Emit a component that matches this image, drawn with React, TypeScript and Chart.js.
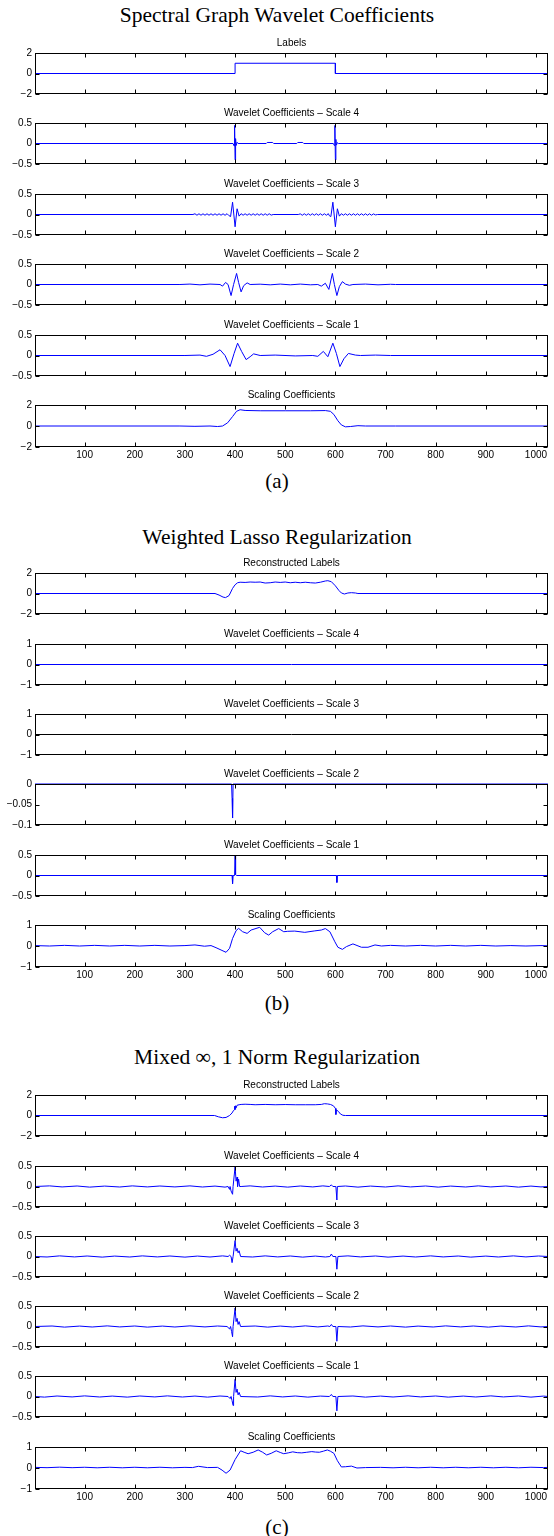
import React, { useEffect, useRef } from "react";
import { Chart, registerables } from "chart.js";

Chart.register(...registerables);

// ---------- tick labels ----------
const X_TICKS = [100, 200, 300, 400, 500, 600, 700, 800, 900, 1000];
const Y_TICKS_2 = [-2, 0, 2];
const Y_TICKS_1 = [-1, 0, 1];
const Y_TICKS_05 = [-0.5, 0, 0.5];
const Y_TICKS_01 = [-0.1, -0.05, 0];

// ---------- titles ----------
const GROUP_TITLES = [
  "Spectral Graph Wavelet Coefficients",
  "Weighted Lasso Regularization",
  "Mixed \u221E, 1 Norm Regularization",
];
const GROUP_LABELS = ["(a)", "(b)", "(c)"];
const PANEL_TITLES_A = [
  "Labels",
  "Wavelet Coefficients \u2013 Scale 4",
  "Wavelet Coefficients \u2013 Scale 3",
  "Wavelet Coefficients \u2013 Scale 2",
  "Wavelet Coefficients \u2013 Scale 1",
  "Scaling Coefficients",
];
const PANEL_TITLES_BC = [
  "Reconstructed Labels",
  "Wavelet Coefficients \u2013 Scale 4",
  "Wavelet Coefficients \u2013 Scale 3",
  "Wavelet Coefficients \u2013 Scale 2",
  "Wavelet Coefficients \u2013 Scale 1",
  "Scaling Coefficients",
];

// ---------- series (x = vertex index, y = value) ----------
// (a) Spectral graph wavelet coefficients
const A_LABELS: [number, number][] = [[1, 0], [400, 0], [400, 1], [600, 1], [600, 0], [1024, 0]];

const A_SCALE4: [number, number][] = [
  [1, 0], [396, 0], [398, -0.06], [399, 0.44], [400, -0.4], [401, 0.12], [402, -0.05], [404, 0.03], [406, 0],
  [462, 0], [464, 0.025], [475, 0.025], [477, 0], [523, 0], [525, 0.025], [535, 0.025], [537, 0],
  [596, 0], [598, -0.05], [599, 0.44], [600, -0.4], [601, 0.1], [602, -0.04], [604, 0.02], [606, 0], [1024, 0],
];

const A_SCALE3: [number, number][] = [
  [1, 0], [316, 0],
  [320, 0.018], [324, -0.018], [328, 0.018], [332, -0.018], [336, 0.018], [340, -0.018], [344, 0.018], [348, -0.018],
  [352, 0.018], [356, -0.018], [360, 0.018], [364, -0.018], [368, 0.018], [372, -0.018], [376, 0.018], [380, -0.02],
  [384, 0.02], [388, -0.03], [391, -0.05], [395, 0.3], [400, -0.3], [404, 0.14], [408, -0.04], [412, 0.02],
  [416, -0.018], [420, 0.018], [424, -0.018], [428, 0.018], [432, -0.018], [436, 0.018], [440, -0.018], [444, 0.018],
  [448, -0.018], [452, 0.018], [456, -0.018], [460, 0.018], [464, -0.018], [468, 0.018], [472, -0.015], [476, 0],
  [526, 0], [530, 0.015], [534, -0.018], [538, 0.018], [542, -0.018], [546, 0.018], [550, -0.018], [554, 0.018],
  [558, -0.018], [562, 0.018], [566, -0.018], [570, 0.018], [574, -0.018], [578, 0.018], [582, -0.018], [586, 0.02],
  [588, -0.03], [591, -0.05], [595, 0.3], [600, -0.3], [604, 0.14], [608, -0.04], [612, 0.02],
  [616, -0.018], [620, 0.018], [624, -0.018], [628, 0.018], [632, -0.018], [636, 0.018], [640, -0.018], [644, 0.018],
  [648, -0.018], [652, 0.018], [656, -0.018], [660, 0.018], [664, -0.018], [668, 0.018], [672, -0.018], [676, 0.015],
  [680, -0.01], [684, 0], [1024, 0],
];

const A_SCALE2: [number, number][] = [
  [1, 0], [290, 0], [310, 0.01], [330, -0.008], [350, 0.01], [370, 0], [375, -0.04], [381, 0.05], [386, 0.0],
  [392, -0.27], [397, 0.0], [403, 0.27], [407, 0.05], [412, -0.18], [417, -0.03], [424, 0.04], [430, 0],
  [450, 0.008], [470, -0.008], [490, 0.01], [510, -0.008], [530, 0.01], [550, -0.008], [565, 0],
  [572, -0.04], [580, 0.03], [587, -0.12], [594, 0.27], [598, 0.0], [603, -0.27], [608, -0.05], [614, 0.07],
  [620, 0.01], [628, -0.02], [635, 0], [660, 0.01], [685, -0.008], [710, 0.005], [720, 0], [1024, 0],
];

const A_SCALE1: [number, number][] = [
  [1, 0], [300, 0], [330, 0.01], [343, -0.02], [356, 0.03], [370, 0.14], [380, 0.0], [390, -0.27], [398, 0.05],
  [405, 0.3], [413, 0.1], [422, -0.1], [430, -0.03], [437, 0.04], [450, 0], [480, 0.01], [520, -0.01],
  [555, 0], [565, -0.02], [576, 0.1], [585, -0.03], [595, 0.3], [602, 0.05], [609, -0.27], [617, -0.08],
  [626, 0.05], [640, 0.01], [650, 0], [680, 0.01], [710, 0], [1024, 0],
];

const A_SCALING: [number, number][] = [
  [1, 0], [290, 0], [320, -0.03], [350, 0.0], [365, -0.05], [375, 0.0], [385, 0.3], [395, 0.9], [403, 1.4],
  [410, 1.55], [420, 1.48], [450, 1.45], [500, 1.45], [550, 1.45], [580, 1.47], [590, 1.4], [597, 1.1],
  [605, 0.5], [612, 0.1], [620, -0.08], [630, -0.05], [645, 0.03], [660, 0], [720, 0], [1024, 0],
];

// (b) Weighted lasso regularization
const B_RECON: [number, number][] = [
  [1, 0], [360, 0], [368, -0.15], [376, -0.35], [381, -0.4], [388, -0.2], [395, 0.5], [400, 0.85], [405, 1.05],
  [410, 1.1], [420, 1.08], [430, 1.12], [440, 1.1], [450, 1.12], [460, 1.02], [470, 1.05], [480, 1.12],
  [490, 1.08], [500, 1.12], [510, 1.05], [520, 1.1], [530, 1.05], [540, 1.1], [550, 1.05], [560, 1.02],
  [570, 1.1], [580, 1.22], [585, 1.25], [592, 1.15], [600, 0.75], [607, 0.3], [612, 0.05], [618, -0.05],
  [625, 0.05], [632, 0.08], [640, 0.05], [645, 0], [1024, 0],
];
const B_SCALE4: [number, number][] = [[1, 0], [1024, 0]];
const B_SCALE3: [number, number][] = [[1, 0], [1024, 0]];
const B_SCALE2: [number, number][] = [[1, 0], [393, 0], [394, -0.035], [395, -0.083], [396, 0], [1024, 0]];
const B_SCALE1: [number, number][] = [
  [1, 0], [394, 0], [395, -0.2], [396, 0], [399, 0], [400, 0.48], [401, 0.02], [403, 0],
  [602, 0], [603, -0.17], [604, 0], [1024, 0],
];
const B_SCALING: [number, number][] = [
  [1, 0.02], [30, 0.0], [60, 0.03], [90, 0.0], [120, 0.03], [150, 0.0], [180, 0.03], [210, 0.0], [240, 0.03],
  [270, 0.0], [300, 0.02], [320, 0.05], [339, -0.01], [352, 0.02], [362, -0.08], [372, -0.19], [382, -0.3],
  [389, -0.11], [395, 0.36], [402, 0.73], [407, 0.84], [415, 0.68], [424, 0.6], [432, 0.76], [449, 0.89],
  [459, 0.63], [467, 0.52], [475, 0.68], [487, 0.83], [497, 0.68], [505, 0.7], [519, 0.71], [539, 0.65],
  [559, 0.72], [572, 0.76], [580, 0.83], [589, 0.68], [599, 0.2], [605, -0.06], [614, -0.16], [622, -0.03],
  [635, 0.1], [652, -0.06], [665, -0.06], [679, 0.05], [692, 0.0], [710, 0.03], [740, 0.0], [770, 0.03],
  [800, 0.0], [830, 0.03], [860, 0.0], [890, 0.03], [920, 0.0], [950, 0.02], [980, 0.0], [1010, 0.02], [1024, 0.01],
];

// (c) Mixed infinity,1 norm regularization
const C_RECON: [number, number][] = [
  [1, 0], [359, 0], [367, -0.13], [375, -0.22], [382, -0.19], [389, 0], [394, 0.25], [397, 0.5], [398, 0.55],
  [399, 0.9], [400, 0.6], [401, 0.95], [402, 0.75], [404, 1.0], [408, 1.05], [412, 1.08], [420, 1.1], [430, 1.08],
  [440, 1.05], [460, 1.08], [480, 1.05], [500, 1.07], [520, 1.05], [540, 1.05], [560, 1.05], [572, 1.08],
  [578, 1.15], [584, 1.13], [590, 1.08], [596, 0.95], [600, 0.7], [601, 0.1], [602, 0.55], [606, 0.4],
  [610, 0.15], [615, 0.02], [620, 0], [1024, 0],
];
const C_SCALE4: [number, number][] = [
  [1, 0], [30, 0.015], [55, -0.01], [85, 0.012], [110, -0.015], [140, 0.01], [170, -0.012], [195, 0.015],
  [225, -0.01], [250, 0.012], [280, -0.01], [310, 0.015], [335, -0.012], [360, 0.01], [380, -0.015], [386, 0],
  [389, -0.07], [390, 0], [392, -0.11], [395, -0.19], [396, 0], [400, 0.48], [402, 0.13], [404, 0.23], [405, 0],
  [407, 0.18], [409, 0], [412, 0], [430, 0.015], [455, -0.012], [480, 0.01], [505, -0.015], [530, 0.012],
  [555, -0.01], [575, 0.015], [588, 0], [592, 0.04], [595, 0], [601, 0], [603, -0.33], [604, 0], [620, 0.012],
  [645, -0.015], [670, 0.01], [700, -0.012], [725, 0.015], [750, -0.01], [780, 0.012], [805, -0.015], [830, 0.01],
  [860, -0.012], [885, 0.015], [910, -0.01], [940, 0.012], [965, -0.015], [990, 0.01], [1010, -0.01], [1024, 0],
];
const C_SCALE3: [number, number][] = [
  [1, 0], [25, -0.012], [50, 0.015], [80, -0.01], [105, 0.012], [135, -0.015], [160, 0.01], [190, -0.012],
  [215, 0.015], [245, -0.01], [270, 0.012], [300, -0.015], [325, 0.01], [350, -0.012], [375, 0.015], [386, 0],
  [389, 0.03], [392, 0], [394, -0.15], [396, 0], [400, 0.39], [402, 0.13], [404, 0.2], [406, 0.09], [408, 0.14],
  [411, 0], [435, -0.012], [460, 0.015], [485, -0.01], [510, 0.012], [535, -0.015], [560, 0.01], [580, -0.012],
  [589, 0], [592, 0.06], [595, 0], [601, 0], [603, -0.31], [605, 0], [625, 0.015], [650, -0.01], [680, 0.012],
  [705, -0.015], [735, 0.01], [760, -0.012], [790, 0.015], [815, -0.01], [845, 0.012], [870, -0.015], [900, 0.01],
  [925, -0.012], [955, 0.015], [980, -0.01], [1005, 0.012], [1024, 0],
];
const C_SCALE2: [number, number][] = [
  [1, 0], [35, 0.012], [60, -0.015], [90, 0.01], [115, -0.012], [145, 0.015], [170, -0.01], [200, 0.012],
  [225, -0.015], [255, 0.01], [280, -0.012], [310, 0.015], [340, -0.01], [365, 0.012], [384, 0], [389, -0.06],
  [391, 0], [393, -0.12], [395, -0.25], [396, 0], [400, 0.45], [402, 0.12], [404, 0.2], [406, 0.05], [408, 0.12],
  [411, 0], [440, 0.012], [465, -0.015], [490, 0.01], [515, -0.012], [540, 0.015], [565, -0.01], [585, 0.012],
  [589, 0], [592, 0.05], [595, 0], [601, 0], [603, -0.36], [605, 0], [630, -0.012], [655, 0.015], [685, -0.01],
  [710, 0.012], [740, -0.015], [765, 0.01], [795, -0.012], [820, 0.015], [850, -0.01], [875, 0.012], [905, -0.015],
  [930, 0.01], [960, -0.012], [985, 0.015], [1010, -0.01], [1024, 0],
];
const C_SCALE1: [number, number][] = [
  [1, 0], [20, -0.015], [45, 0.012], [75, -0.01], [100, 0.015], [130, -0.012], [155, 0.01], [185, -0.015],
  [210, 0.012], [240, -0.01], [265, 0.015], [295, -0.012], [320, 0.01], [345, -0.015], [370, 0.012], [386, 0],
  [390, -0.05], [392, 0], [394, -0.1], [396, -0.22], [397, 0], [400, 0.42], [402, 0.1], [404, 0.18], [406, 0.04],
  [408, 0.1], [411, 0], [445, -0.012], [470, 0.015], [495, -0.01], [520, 0.012], [545, -0.015], [570, 0.01],
  [588, 0], [592, 0.05], [595, 0], [601, 0], [603, -0.35], [605, 0], [635, 0.012], [660, -0.015], [690, 0.01],
  [715, -0.012], [745, 0.015], [770, -0.01], [800, 0.012], [825, -0.015], [855, 0.01], [880, -0.012], [910, 0.015],
  [935, -0.01], [965, 0.012], [990, -0.015], [1015, 0.01], [1024, 0],
];
const C_SCALING: [number, number][] = [
  [1, 0.03], [25, 0.015], [50, 0.04], [75, 0.015], [100, 0.035], [125, 0.01], [150, 0.035], [175, 0.01],
  [200, 0.035], [225, 0.01], [250, 0.035], [275, 0.01], [300, 0.03], [315, 0.02], [327, 0.08], [345, 0.02],
  [365, 0.03], [374, -0.1], [382, -0.25], [390, -0.1], [400, 0.4], [411, 0.82], [418, 0.75], [426, 0.68],
  [436, 0.75], [446, 0.86], [455, 0.75], [463, 0.62], [472, 0.7], [482, 0.82], [490, 0.74], [497, 0.68],
  [506, 0.72], [515, 0.77], [524, 0.73], [533, 0.72], [543, 0.75], [553, 0.78], [560, 0.76], [568, 0.75],
  [576, 0.8], [584, 0.86], [590, 0.8], [597, 0.7], [604, 0.35], [612, 0.05], [620, 0.06], [632, 0.09],
  [643, 0.0], [660, 0.02], [690, 0.03], [715, 0.01], [740, 0.035], [765, 0.01], [790, 0.035], [815, 0.01],
  [840, 0.035], [865, 0.01], [890, 0.035], [915, 0.01], [940, 0.035], [965, 0.01], [990, 0.035], [1015, 0.02], [1024, 0.03],
];

// ---------- layout / style ----------
const W = 554;
const PLOT_LEFT = 35;
const PLOT_RIGHT = 548;
const PLOT_H = 42;
const TITLE_H = 20;
const BELOW = 8;
const BELOW_LAST = 20;
const BLUE = "#0000ff";
const BLACK = "#000000";
const SANS = "'Liberation Sans', Arial, Helvetica, sans-serif";
const SERIF = "'Liberation Serif', 'Times New Roman', Times, serif";

const GROUP_TITLE_Y = [15, 537, 1057];
const GROUP_LABEL_Y = [481, 1003, 1527];

type PanelSpec = {
  title: string;
  data: [number, number][];
  yMin: number;
  yMax: number;
  yTicks: number[];
  color: string;
  top: number;
  last: boolean;
};

const mk = (
  title: string,
  data: [number, number][],
  yTicks: number[],
  top: number,
  last = false,
  color = BLUE
): PanelSpec => ({
  title,
  data,
  yMin: yTicks[0],
  yMax: yTicks[yTicks.length - 1],
  yTicks,
  color,
  top,
  last,
});

const PANELS: PanelSpec[] = [
  mk(PANEL_TITLES_A[0], A_LABELS, Y_TICKS_2, 53),
  mk(PANEL_TITLES_A[1], A_SCALE4, Y_TICKS_05, 123),
  mk(PANEL_TITLES_A[2], A_SCALE3, Y_TICKS_05, 194),
  mk(PANEL_TITLES_A[3], A_SCALE2, Y_TICKS_05, 264),
  mk(PANEL_TITLES_A[4], A_SCALE1, Y_TICKS_05, 335),
  mk(PANEL_TITLES_A[5], A_SCALING, Y_TICKS_2, 405, true),

  mk(PANEL_TITLES_BC[0], B_RECON, Y_TICKS_2, 573),
  mk(PANEL_TITLES_BC[1], B_SCALE4, Y_TICKS_1, 644),
  mk(PANEL_TITLES_BC[2], B_SCALE3, Y_TICKS_1, 714, false, BLACK),
  mk(PANEL_TITLES_BC[3], B_SCALE2, Y_TICKS_01, 784),
  mk(PANEL_TITLES_BC[4], B_SCALE1, Y_TICKS_05, 855),
  mk(PANEL_TITLES_BC[5], B_SCALING, Y_TICKS_1, 925, true),

  mk(PANEL_TITLES_BC[0], C_RECON, Y_TICKS_2, 1095),
  mk(PANEL_TITLES_BC[1], C_SCALE4, Y_TICKS_05, 1166),
  mk(PANEL_TITLES_BC[2], C_SCALE3, Y_TICKS_05, 1236),
  mk(PANEL_TITLES_BC[3], C_SCALE2, Y_TICKS_05, 1306),
  mk(PANEL_TITLES_BC[4], C_SCALE1, Y_TICKS_05, 1376),
  mk(PANEL_TITLES_BC[5], C_SCALING, Y_TICKS_1, 1447, true),
];

const fmtY = (v: number) => (v < 0 ? "\u2212" + String(Math.abs(v)) : String(v));

const boxPlugin = {
  id: "matlabBox",
  afterDatasetsDraw(chart: any) {
    const { ctx, chartArea: a, scales } = chart;
    const L = Math.round(a.left) + 0.5;
    const R = Math.round(a.right) - 0.5;
    const T = Math.round(a.top) + 0.5;
    const B = Math.round(a.bottom) - 0.5;
    ctx.save();
    ctx.strokeStyle = "#000";
    ctx.lineWidth = 1;
    ctx.beginPath();
    for (const v of X_TICKS) {
      const px = Math.round(scales.x.getPixelForValue(v)) + 0.5;
      ctx.moveTo(px, T);
      ctx.lineTo(px, T + 4);
      ctx.moveTo(px, B);
      ctx.lineTo(px, B - 4);
    }
    for (const t of scales.y.ticks) {
      const py = Math.round(scales.y.getPixelForValue(t.value)) + 0.5;
      ctx.moveTo(L, py);
      ctx.lineTo(L + 4, py);
      ctx.moveTo(R, py);
      ctx.lineTo(R - 4, py);
    }
    ctx.stroke();
    ctx.strokeRect(L, T, R - L, B - T);
    ctx.restore();
  },
};

function Panel({ p }: { p: PanelSpec }) {
  const ref = useRef<HTMLCanvasElement | null>(null);
  const h = TITLE_H + PLOT_H + (p.last ? BELOW_LAST : BELOW);

  useEffect(() => {
    if (!ref.current) return;
    const font = { family: SANS, size: 10 };
    const chart = new Chart(ref.current, {
      type: "line",
      data: {
        datasets: [
          {
            data: p.data.map(([x, y]) => ({ x, y })),
            borderColor: p.color,
            borderWidth: 1,
            pointRadius: 0,
            tension: 0,
            fill: false,
            clip: 1,
          },
        ],
      },
      options: {
        animation: false,
        responsive: false,
        maintainAspectRatio: false,
        devicePixelRatio: 1,
        events: [],
        layout: { padding: { left: 0, right: W - PLOT_RIGHT, top: 0, bottom: 0 } },
        plugins: {
          legend: { display: false },
          tooltip: { enabled: false },
          title: {
            display: true,
            text: p.title,
            fullSize: false,
            color: "#000",
            font: { family: SANS, size: 10, weight: "normal", lineHeight: 1 },
            padding: { top: 5, bottom: 5 },
          },
        },
        scales: {
          x: {
            type: "linear",
            position: "bottom",
            min: 1,
            max: 1024,
            afterBuildTicks: (s: any) => {
              s.ticks = X_TICKS.map((v) => ({ value: v }));
            },
            afterFit: (s: any) => {
              s.height = p.last ? BELOW_LAST : BELOW;
            },
            grid: { display: false, drawTicks: false },
            border: { display: false },
            ticks: {
              display: p.last,
              autoSkip: false,
              maxRotation: 0,
              padding: 2,
              color: "#000",
              font,
              callback: (v: any) => String(v),
            },
          },
          y: {
            type: "linear",
            min: p.yMin,
            max: p.yMax,
            afterBuildTicks: (s: any) => {
              s.ticks = p.yTicks.map((v) => ({ value: v }));
            },
            afterFit: (s: any) => {
              s.width = PLOT_LEFT;
            },
            grid: { display: false, drawTicks: false },
            border: { display: false },
            ticks: {
              padding: 3,
              color: "#000",
              font,
              callback: (v: any) => fmtY(Number(v)),
            },
          },
        },
      },
      plugins: [boxPlugin],
    } as any);
    return () => chart.destroy();
  }, [p]);

  return (
    <canvas
      ref={ref}
      width={W}
      height={h}
      style={{ position: "absolute", left: 0, top: p.top - TITLE_H, width: W, height: h, display: "block" }}
    />
  );
}

export default function App() {
  return (
    <div style={{ position: "absolute", left: 0, top: 0, width: W, height: 1536, background: "#fff", overflow: "hidden" }}>
      {GROUP_TITLES.map((t, i) => (
        <div
          key={"t" + i}
          style={{
            position: "absolute",
            left: 0,
            width: W,
            top: GROUP_TITLE_Y[i] - 13,
            height: 26,
            lineHeight: "26px",
            textAlign: "center",
            fontFamily: SERIF,
            fontSize: 21.5,
            color: "#000",
            whiteSpace: "nowrap",
          }}
        >
          {t}
        </div>
      ))}
      {GROUP_LABELS.map((t, i) => (
        <div
          key={"l" + i}
          style={{
            position: "absolute",
            left: 0,
            width: W,
            top: GROUP_LABEL_Y[i] - 13,
            height: 26,
            lineHeight: "26px",
            textAlign: "center",
            fontFamily: SERIF,
            fontSize: 21,
            color: "#000",
          }}
        >
          {t}
        </div>
      ))}
      {PANELS.map((p, i) => (
        <Panel key={i} p={p} />
      ))}
    </div>
  );
}
